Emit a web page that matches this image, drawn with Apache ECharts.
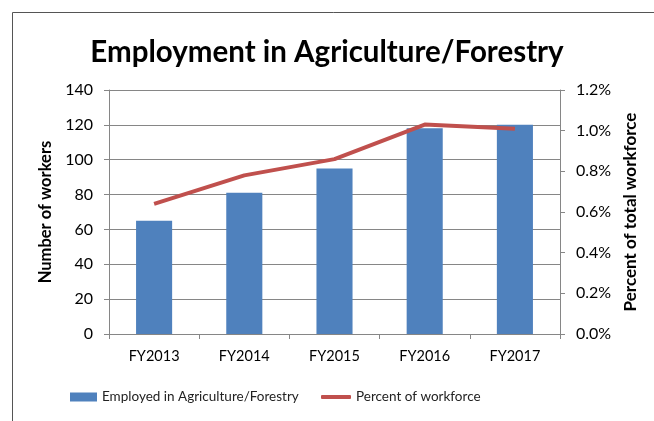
<!DOCTYPE html>
<html>
<head>
<meta charset="utf-8">
<script src="https://cdn.jsdelivr.net/npm/echarts@6/dist/echarts.min.js"></script>
<style>
	html, body { margin: 0; padding: 0; background: #fff; }
	#chart { width: 654px; height: 421px; }
</style>
</head>
<body>
<div id="chart"></div>
<script>
	// data
	var years = ['FY2013', 'FY2014', 'FY2015', 'FY2016', 'FY2017'];
	var workers = [65, 81, 95, 118, 120];
	var percent = [0.64, 0.78, 0.86, 1.03, 1.01];

	var font = 'Lato';
	var gray = '#868686';
	var chart = echarts.init(document.getElementById('chart'));
	chart.setOption({
		animation: false,
		textStyle: { fontFamily: font },
		graphic: [{
			type: 'rect',
			shape: { x: 12.5, y: 12.5, width: 700, height: 500 },
			style: { fill: 'none', stroke: '#555', lineWidth: 1 },
			silent: true
		}],
		title: {
			text: 'Employment in Agriculture/Forestry',
			left: 'center',
			top: 32,
			textStyle: { fontFamily: font, fontSize: 29.5, fontWeight: 'bold', color: '#000' }
		},
		// two legends so each swatch can have its own size
		legend: [{
			left: 65,
			top: 385,
			itemWidth: 27,
			itemHeight: 9,
			icon: 'rect',
			textStyle: { fontFamily: font, fontSize: 13.5, color: '#222' },
			data: ['Employed in Agriculture/Forestry']
		}, {
			left: 316,
			top: 385,
			itemWidth: 30,
			itemHeight: 4,
			icon: 'roundRect',
			textStyle: { fontFamily: font, fontSize: 13.5, color: '#222' },
			data: ['Percent of workforce']
		}],
		grid: { left: 109, right: 94, top: 90, bottom: 87 },
		xAxis: {
			type: 'category',
			data: years,
			axisLine: { lineStyle: { color: gray } },
			axisTick: { show: true, length: 5, lineStyle: { color: gray } },
			axisLabel: { color: '#000', fontSize: 14.5, margin: 15 }
		},
		yAxis: [{
			type: 'value',
			min: 0, max: 140, interval: 20,
			name: 'Number of workers',
			nameLocation: 'middle',
			nameGap: 46,
			nameTextStyle: { fontWeight: 'bold', fontSize: 16.5, color: '#000' },
			axisLine: { show: true, lineStyle: { color: gray } },
			axisTick: { show: true, length: 5, lineStyle: { color: gray } },
			axisLabel: { color: '#000', fontSize: 16, margin: 16 },
			splitLine: { lineStyle: { color: gray } }
		}, {
			type: 'value',
			min: 0, max: 1.2, interval: 0.2,
			name: 'Percent of total workforce',
			nameLocation: 'middle',
			nameGap: 62,
			nameTextStyle: { fontWeight: 'bold', fontSize: 17, color: '#000' },
			axisLine: { show: true, lineStyle: { color: gray } },
			axisTick: { show: true, length: 5, lineStyle: { color: gray } },
			axisLabel: {
				color: '#000', fontSize: 16, margin: 16,
				formatter: function (v) { return v.toFixed(1) + '%'; }
			},
			splitLine: { show: false }
		}],
		series: [{
			name: 'Employed in Agriculture/Forestry',
			type: 'bar',
			data: workers,
			barWidth: '40%',
			itemStyle: { color: '#4f81bd' }
		}, {
			name: 'Percent of workforce',
			type: 'line',
			yAxisIndex: 1,
			data: percent,
			symbol: 'none',
			lineStyle: { color: '#c0504d', width: 4 },
			itemStyle: { color: '#c0504d' }
		}]
	});
</script>
</body>
</html>
